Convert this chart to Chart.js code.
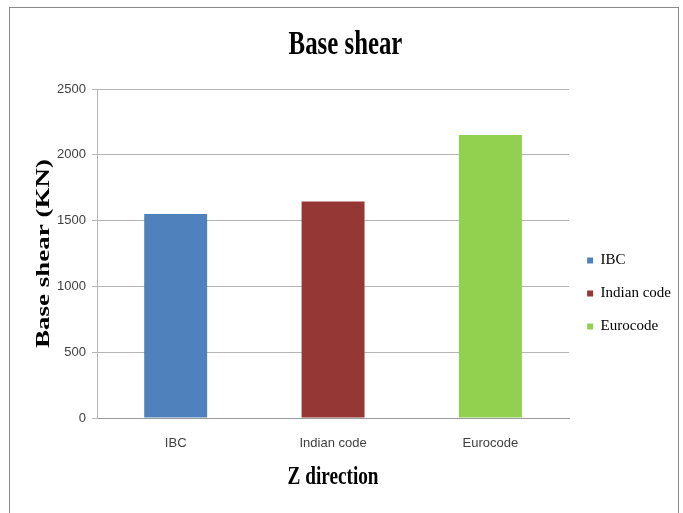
<!DOCTYPE html>
<html lang="en">
<head>
  <meta charset="UTF-8" />
  <title>Base shear</title>
  <style>
    html, body { margin: 0; padding: 0; background: #fff; }
    .wrap { position: relative; width: 683px; height: 513px; overflow: hidden; }
    .frame { position: absolute; left: 9px; top: 7px; width: 668px; height: 530px; border: 1px solid #8a8a8a; }
    canvas { position: absolute; left: 0; top: 0; }
  </style>
</head>
<body>
  <div class="wrap">
    <div class="frame"></div>
    <canvas id="shearChart" width="683" height="513"></canvas>
  </div>

  <script src="https://cdn.jsdelivr.net/npm/chart.js"></script>
  <script>
    const categories = ['IBC', 'Indian code', 'Eurocode'];
    const baseShear = [1550, 1645, 2150];
    const barColors = ['#4f81bd', '#953735', '#92d050'];
    const yMax = 2500;
    const yStep = 500;

    const chartTitle = 'Base shear';
    const xTitle = 'Z direction';
    const yTitle = 'Base shear (KN)';

    const serif = "'Liberation Serif', 'Times New Roman', serif";
    const sans = "'Liberation Sans Narrow', 'Arial Narrow', 'Liberation Sans', Arial, sans-serif";

    // titles are drawn narrow (or stretched for the y title), like the Excel original
    const squeezedTitles = {
      id: 'squeezedTitles',
      afterDraw(chart) {
        const { ctx, chartArea: a } = chart;
        const put = (txt, x, y, size, sx, rot) => {
          ctx.save();
          ctx.translate(x, y);
          ctx.rotate(rot);
          ctx.scale(sx, 1);
          ctx.font = `bold ${size}px ${serif}`;
          ctx.fillStyle = '#000';
          ctx.textAlign = 'center';
          ctx.textBaseline = 'middle';
          ctx.fillText(txt, 0, 0);
          ctx.restore();
        };
        put(chartTitle, chart.width / 2 + 4, 45, 34, 0.73, 0);
        put(xTitle, (a.left + a.right) / 2, a.bottom + 59, 26, 0.74, 0);
        put(yTitle, 44, (a.top + a.bottom) / 2, 19, 1.42, -Math.PI / 2);
      }
    };

    new Chart(document.getElementById('shearChart'), {
      type: 'bar',
      data: {
        labels: categories,
        datasets: [{
          label: 'Base shear',
          data: baseShear,
          backgroundColor: barColors,
          borderWidth: 0,
          barPercentage: 0.4,
          categoryPercentage: 1
        }]
      },
      options: {
        responsive: false,
        animation: false,
        devicePixelRatio: 1,
        layout: { padding: { left: 37, top: 89, right: 2, bottom: 0 } },
        plugins: {
          title: { display: false },
          tooltip: { enabled: false },
          legend: {
            position: 'right',
            fullSize: false,
            // empty title block pushes the entries down below the middle
            title: {
              display: true,
              text: ' ',
              font: { size: 10, lineHeight: 1 },
              padding: { top: 70, bottom: 0 }
            },
            labels: {
              boxWidth: 6,
              boxHeight: 6,
              padding: 18,
              color: '#000',
              font: { family: serif, size: 15 },
              generateLabels: () => categories.map((c, i) => ({
                text: c,
                fillStyle: barColors[i],
                strokeStyle: barColors[i],
                fontColor: '#000',
                lineWidth: 0,
                hidden: false,
                index: i
              }))
            }
          }
        },
        scales: {
          x: {
            afterFit: (s) => { s.height = 95; },
            grid: { display: false, drawTicks: false },
            border: { display: true, color: '#9a9a9a', width: 1 },
            ticks: {
              padding: 18,
              color: '#404040',
              font: { family: sans, size: 13 }
            }
          },
          y: {
            min: 0,
            max: yMax,
            afterFit: (s) => { s.width = 60; },
            grid: { color: '#b5b5b5', tickLength: 5 },
            border: { display: true, color: '#b5b5b5', width: 1 },
            ticks: {
              stepSize: yStep,
              padding: 6,
              color: '#404040',
              font: { family: sans, size: 13 },
              callback: (v) => String(v)
            }
          }
        }
      },
      plugins: [squeezedTitles]
    });
  </script>
</body>
</html>
